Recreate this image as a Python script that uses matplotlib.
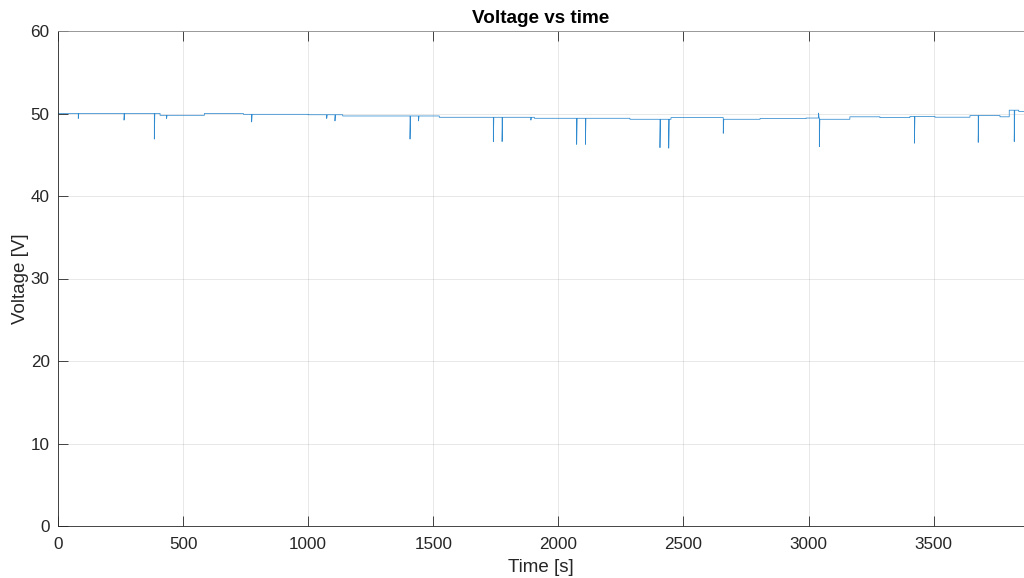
import matplotlib
matplotlib.use("Agg")
import matplotlib.pyplot as plt
import numpy as np

# baseline voltage levels (start time [s], voltage [V])
step_t = [0, 408, 585, 741, 1000, 1138, 1524, 1904, 2286, 2450, 2659, 2806,
          2990, 3043, 3165, 3285, 3405, 3505, 3645, 3765, 3802, 3840]
step_v = [50.0, 49.78, 50.0, 49.9, 49.85, 49.7, 49.54, 49.42, 49.3, 49.5, 49.3, 49.4,
          49.45, 49.3, 49.6, 49.5, 49.65, 49.55, 49.75, 49.6, 50.4, 50.25]

# short voltage dips (time [s], min voltage [V])
spike_t = [81, 264, 385, 434, 774, 1074, 1107, 1407, 1441, 1740, 1775, 1890,
           2073, 2108, 2406, 2441, 2659, 3040, 3043, 3423, 3678, 3822]
spike_v = [49.4, 49.2, 46.9, 49.4, 48.97, 49.4, 49.1, 46.9, 49.1, 46.6, 46.6, 49.2,
           46.26, 46.26, 45.86, 45.8, 47.6, 50.05, 45.98, 46.4, 46.5, 46.6]

t_end = 3861


def build_trace():
    events = [(t, 0, i) for i, t in enumerate(step_t) if i > 0]
    events += [(t, 1, i) for i, t in enumerate(spike_t)]
    events.sort()
    cur = step_v[0]
    ts, vs = [step_t[0]], [cur]
    for t, kind, i in events:
        if kind == 0:
            ts += [t, t]
            vs += [cur, step_v[i]]
            cur = step_v[i]
        else:
            ts += [t, t, t + 2]
            vs += [cur, spike_v[i], cur]
    ts.append(t_end)
    vs.append(cur)
    return np.array(ts), np.array(vs)


plt.rcParams["font.family"] = ["Liberation Sans", "DejaVu Sans"]

fig = plt.figure(figsize=(10.24, 5.78), dpi=100)
ax = fig.add_axes([58 / 1024, 52 / 578, 1 - 58 / 1024, 495 / 578])

t, v = build_trace()
ax.plot(t, v, color="#2f8ad0", linewidth=0.55)

ax.set_xlim(0, t_end)
ax.set_ylim(0, 60)
ax.set_xticks(np.arange(0, 4000, 500))
ax.set_yticks(np.arange(0, 61, 10))
ax.grid(True, color="#262626", alpha=0.12, linewidth=0.6)
ax.set_axisbelow(True)

for side in ["left", "bottom"]:
    ax.spines[side].set_color("#262626")
    ax.spines[side].set_linewidth(0.6)
ax.spines["top"].set_color("#8c8c8c")
ax.spines["top"].set_linewidth(0.6)
ax.spines["right"].set_visible(False)

ax.tick_params(direction="in", length=7, width=0.6, color="#262626",
               labelcolor="#262626", labelsize=12.3)
ax.tick_params(axis="x", pad=8, top=True)
ax.tick_params(axis="y", pad=6)

ax.set_title("Voltage vs time", fontsize=13.6, fontweight="bold", pad=6)
ax.set_xlabel("Time [s]", fontsize=13.5, color="#262626", labelpad=5)
ax.set_ylabel("Voltage [V]", fontsize=13.5, color="#262626", labelpad=1)

fig.savefig("out.png", dpi=100)
plt.close(fig)
